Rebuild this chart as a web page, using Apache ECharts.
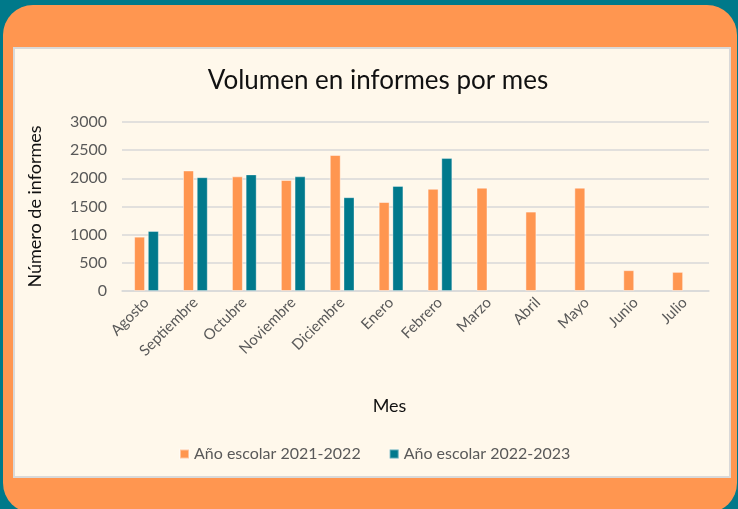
<!DOCTYPE html>
<html>
<head>
<meta charset="utf-8">
<script src="https://cdn.jsdelivr.net/npm/echarts@6/dist/echarts.min.js"></script>
<style>
  html, body { margin: 0; padding: 0; background: #00798a; width: 738px; height: 509px; overflow: hidden; }
  #frame { position: absolute; left: 3px; top: 5px; width: 734px; height: 508px; background: #ff9650; border-radius: 30px; }
  #panel { position: absolute; left: 13px; top: 47px; width: 718px; height: 431px; box-sizing: border-box; background: #fff8eb; border: 2px solid #d9d9d9; }
  #main { position: absolute; left: 0; top: 0; width: 738px; height: 509px; }
</style>
</head>
<body>
<div id="frame"></div>
<div id="panel"></div>
<div id="main"></div>
<script>
var meses = ['Agosto', 'Septiembre', 'Octubre', 'Noviembre', 'Diciembre', 'Enero', 'Febrero', 'Marzo', 'Abril', 'Mayo', 'Junio', 'Julio'];
var serie2122 = [965, 2140, 2035, 1970, 2415, 1580, 1815, 1835, 1410, 1835, 370, 340];
var serie2223 = [1065, 2020, 2070, 2035, 1665, 1865, 2360, null, null, null, null, null];
var nombres = ['Año escolar 2021-2022', 'Año escolar 2022-2023'];

var fuente = 'Lato';
var myChart = echarts.init(document.getElementById('main'));
myChart.setOption({
    title: {
        text: 'Volumen en informes por mes',
        left: 373,
        top: 63,
        textAlign: 'center',
        textStyle: { fontFamily: fuente, fontSize: 26, fontWeight: 'normal', color: '#111' }
    },
    legend: {
        data: nombres,
        left: 174,
        top: 441,
        itemWidth: 9,
        itemHeight: 9,
        itemGap: 28,
        icon: 'rect',
        textStyle: { fontFamily: fuente, fontSize: 16, color: '#595959' }
    },
    grid: { left: 122, right: 29, top: 122, bottom: 218 },
    xAxis: {
        type: 'category',
        data: meses,
        name: 'Mes',
        nameLocation: 'middle',
        nameGap: 106,
        nameTextStyle: { fontFamily: fuente, fontSize: 18, color: '#111', padding: [0, 52, 0, 0] },
        axisTick: { show: false },
        axisLine: { lineStyle: { color: '#d9d9d9', width: 1.5 } },
        axisLabel: { rotate: 45, interval: 0, fontFamily: fuente, fontSize: 15, color: '#595959', margin: 9 }
    },
    yAxis: {
        type: 'value',
        min: 0,
        max: 3000,
        interval: 500,
        name: 'Número de informes',
        nameLocation: 'middle',
        nameGap: 78,
        nameTextStyle: { fontFamily: fuente, fontSize: 18, color: '#111' },
        axisLabel: { fontFamily: fuente, fontSize: 16, color: '#595959', margin: 15, formatter: function (v) { return String(v); } },
        splitLine: { lineStyle: { color: '#d9d9d9', width: 1.5 } }
    },
    series: [{
        name: nombres[0],
        type: 'bar',
        data: serie2122,
        barWidth: 11,
        barGap: '25%',
        itemStyle: { color: '#ff9650', borderColor: 'rgba(255,255,255,0.45)', borderWidth: 1 }
    }, {
        name: nombres[1],
        type: 'bar',
        data: serie2223,
        barWidth: 11,
        itemStyle: { color: '#00798c', borderColor: 'rgba(255,255,255,0.35)', borderWidth: 1 }
    }]
});
</script>
</body>
</html>
